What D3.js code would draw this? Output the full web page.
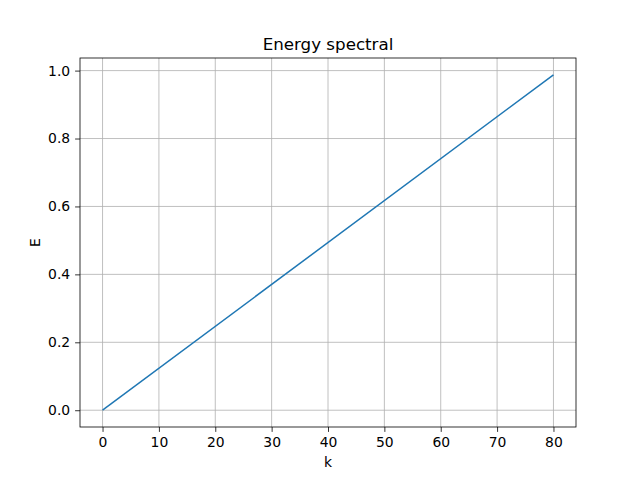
<!DOCTYPE html>
<html><head><meta charset="utf-8">
<script src="https://cdn.jsdelivr.net/npm/d3@7"></script>
<style>body{margin:0;background:#fff}text{font-family:"DejaVu Sans",sans-serif}</style>
</head><body>
<svg id="c" width="640" height="480"></svg>
<script>
const kValues = [0, 80];
const eValues = [0, 0.9877];
const xTicks = [0,10,20,30,40,50,60,70,80];
const yTicks = [0,0.2,0.4,0.6,0.8,1.0];
const title = "Energy spectral", xLabel = "k", yLabel = "E";

const svg = d3.select("#c");
const L=80,R=576,T=58,B=427;
const x = d3.scaleLinear().domain([-4,84]).range([L,R]);
const y = d3.scaleLinear().domain([-0.0494,1.0371]).range([B,T]);
const g = svg.append("g");
g.selectAll(".gx").data(xTicks).enter().append("line")
 .attr("x1",d=>x(d)).attr("x2",d=>x(d)).attr("y1",T).attr("y2",B)
 .attr("stroke","#b0b0b0").attr("stroke-width",0.8);
g.selectAll(".gy").data(yTicks).enter().append("line")
 .attr("y1",d=>y(d)).attr("y2",d=>y(d)).attr("x1",L).attr("x2",R)
 .attr("stroke","#b0b0b0").attr("stroke-width",0.8);
const pts = kValues.map((k,i)=>[k,eValues[i]]);
svg.append("path").datum(pts).attr("fill","none").attr("stroke","#1f77b4").attr("stroke-width",1.5)
 .attr("d", d3.line().x(d=>x(d[0])).y(d=>y(d[1])));
const ax = svg.append("g").attr("transform",`translate(0,${B})`)
 .call(d3.axisBottom(x).tickValues(xTicks).tickSize(4.9).tickPadding(4.9).tickFormat(d3.format("d")));
const ay = svg.append("g").attr("transform",`translate(${L},0)`)
 .call(d3.axisLeft(y).tickValues(yTicks).tickSize(4.9).tickPadding(4.9).tickFormat(d3.format(".1f")));
[ax,ay].forEach(a=>{a.select(".domain").remove();a.selectAll("text").attr("font-size",13.9).attr("fill","#000").style("font-family","DejaVu Sans");a.selectAll("line").attr("stroke","#000").attr("stroke-width",0.8);});
svg.append("rect").attr("x",L).attr("y",T).attr("width",R-L).attr("height",B-T)
 .attr("fill","none").attr("stroke","#000").attr("stroke-width",0.8);
svg.append("text").attr("x",(L+R)/2).attr("y",T-8).attr("text-anchor","middle").attr("font-size",16.7).text(title);
svg.append("text").attr("x",(L+R)/2).attr("y",467).attr("text-anchor","middle").attr("font-size",13.9).text(xLabel);
svg.append("text").attr("transform",`translate(40,${(T+B)/2}) rotate(-90)`).attr("text-anchor","middle").attr("font-size",13.9).text(yLabel);
</script></body></html>
